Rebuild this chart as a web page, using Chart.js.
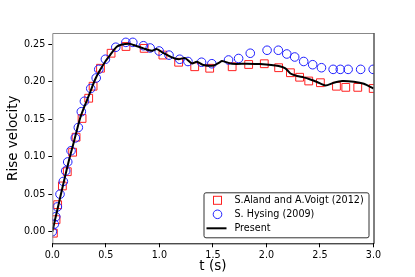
<!DOCTYPE html>
<html>
<head>
<meta charset="utf-8">
<script src="https://cdn.jsdelivr.net/npm/chart.js@4.4.0/dist/chart.umd.min.js"></script>
<style>
  html, body { margin: 0; padding: 0; background: #fff; }
  #wrap { width: 415px; height: 277px; }
</style>
</head>
<body>
<div id="wrap"><canvas id="chart-canvas" width="415" height="277"></canvas></div>
<script>
// S.Aland and A.Voigt (2012) - squares
const alandT = [0.01, 0.035, 0.05, 0.094, 0.14, 0.19, 0.222, 0.278, 0.34, 0.381, 0.45, 0.549, 0.688, 0.858, 1.033, 1.18, 1.33, 1.47, 1.68, 1.834, 1.98, 2.114, 2.224, 2.31, 2.395, 2.504, 2.654, 2.741, 2.853, 2.997];
const alandV = [-0.002, 0.016, 0.036, 0.061, 0.080, 0.106, 0.126, 0.151, 0.178, 0.194, 0.218, 0.238, 0.247, 0.2445, 0.2356, 0.226, 0.220, 0.218, 0.220, 0.223, 0.224, 0.2187, 0.212, 0.206, 0.201, 0.1987, 0.194, 0.1925, 0.1925, 0.191];

// S. Hysing (2009) - circles
const hysingT = [0, 0.019, 0.032, 0.047, 0.072, 0.103, 0.125, 0.144, 0.175, 0.215, 0.243, 0.271, 0.30, 0.359, 0.41, 0.434, 0.496, 0.593, 0.687, 0.752, 0.851, 0.914, 0.998, 1.09, 1.19, 1.267, 1.394, 1.49, 1.646, 1.74, 1.849, 2.006, 2.111, 2.19, 2.264, 2.348, 2.432, 2.514, 2.623, 2.69, 2.763, 2.88, 2.997];
const hysingV = [0, 0.010, 0.020, 0.033, 0.050, 0.067, 0.081, 0.093, 0.108, 0.125, 0.139, 0.160, 0.174, 0.191, 0.205, 0.2165, 0.230, 0.246, 0.2525, 0.2525, 0.248, 0.245, 0.241, 0.2355, 0.230, 0.227, 0.226, 0.224, 0.229, 0.231, 0.238, 0.242, 0.242, 0.237, 0.233, 0.227, 0.2227, 0.2187, 0.2165, 0.2165, 0.2165, 0.2165, 0.2165];

// Present - solid line
const presentT = [0, 0.05, 0.1, 0.15, 0.2, 0.259, 0.3, 0.337, 0.4, 0.446, 0.5, 0.54, 0.602, 0.65, 0.68, 0.727, 0.758, 0.851, 0.93, 0.977, 1.04, 1.117, 1.18, 1.24, 1.304, 1.35, 1.41, 1.506, 1.56, 1.585, 1.678, 1.818, 1.943, 2.114, 2.177, 2.224, 2.286, 2.348, 2.41, 2.473, 2.551, 2.629, 2.707, 2.816, 2.91, 3.0];
const presentV = [0, 0.031, 0.062, 0.092, 0.119, 0.151, 0.167, 0.18, 0.203, 0.2156, 0.228, 0.2356, 0.2467, 0.2495, 0.2503, 0.2505, 0.249, 0.2445, 0.2413, 0.2435, 0.238, 0.2325, 0.23, 0.2315, 0.2245, 0.2267, 0.2223, 0.2215, 0.2255, 0.2276, 0.224, 0.224, 0.2235, 0.221, 0.2178, 0.211, 0.2076, 0.2058, 0.203, 0.1996, 0.195, 0.1987, 0.201, 0.2, 0.1973, 0.191];

const xTicks = [0, 0.5, 1.0, 1.5, 2.0, 2.5, 3.0];
const yTicks = [0, 0.05, 0.10, 0.15, 0.20, 0.25];
const seriesLabels = ['S.Aland and A.Voigt (2012)', 'S. Hysing (2009)', 'Present'];

const FONT = 'DejaVu Sans';
const toPts = (xs, ys) => xs.map((x, i) => ({ x: x, y: ys[i] }));

// axes frame: top/left grey, right/bottom black
const framePlugin = {
    id: 'frame',
    afterDatasetsDraw(chart) {
        const { ctx, chartArea: a } = chart;
        ctx.save(); ctx.lineWidth = 1;
        ctx.strokeStyle = '#888';
        ctx.beginPath(); ctx.moveTo(a.left + 0.5, a.bottom); ctx.lineTo(a.left + 0.5, a.top + 0.5); ctx.lineTo(a.right, a.top + 0.5); ctx.stroke();
        ctx.strokeStyle = '#000';
        ctx.beginPath(); ctx.moveTo(a.left, a.bottom + 0.5); ctx.lineTo(a.right + 0.5, a.bottom + 0.5); ctx.lineTo(a.right + 0.5, a.top); ctx.stroke();
        ctx.restore();
    }
};

// legend box in lower right corner of the axes
const legendPlugin = {
    id: 'boxLegend',
    afterDraw(chart) {
        const { ctx, chartArea: a } = chart;
        const ds = chart.data.datasets;
        const bw = 165, bh = 45, bx = a.right - 5 - bw, by = a.bottom - 6 - bh;
        ctx.save();
        ctx.fillStyle = 'rgba(255,255,255,0.85)'; ctx.strokeStyle = '#333'; ctx.lineWidth = 1;
        ctx.beginPath(); ctx.roundRect(bx + 0.5, by + 0.5, bw, bh, 2); ctx.fill(); ctx.stroke();
        ctx.font = '9.6px "' + FONT + '"'; ctx.textBaseline = 'middle'; ctx.fillStyle = '#000';
        const mx = bx + 14, tx = bx + 31;
        ds.forEach((d, i) => {
            const yy = by + 8 + i * 14;
            ctx.strokeStyle = d.borderColor; ctx.lineWidth = d.showLine ? 2 : 1;
            if (d.showLine) { ctx.beginPath(); ctx.moveTo(mx - 11, yy); ctx.lineTo(mx + 9, yy); ctx.stroke(); }
            else if (d.pointStyle === 'rect') { ctx.strokeRect(mx - 4, yy - 4, 8, 8); }
            else { ctx.beginPath(); ctx.arc(mx, yy, 4.3, 0, Math.PI * 2); ctx.stroke(); }
            ctx.fillStyle = '#000'; ctx.fillText(seriesLabels[i], tx, yy + 0.5);
        });
        ctx.restore();
    }
};

window.renderChart = () => {
    const ctx = document.getElementById('chart-canvas').getContext('2d');
    window.theChart = new Chart(ctx, {
        type: 'scatter',
        data: {
            datasets: [
                { label: seriesLabels[0], data: toPts(alandT, alandV), pointStyle: 'rect', pointRadius: 5.5, pointBorderWidth: 1, borderColor: '#ff2020', backgroundColor: 'rgba(0,0,0,0)', showLine: false, clip: 0, order: 3 },
                { label: seriesLabels[1], data: toPts(hysingT, hysingV), pointStyle: 'circle', pointRadius: 4.3, pointBorderWidth: 1, borderColor: '#1f1fff', backgroundColor: 'rgba(0,0,0,0)', showLine: false, clip: 0, order: 2 },
                { label: seriesLabels[2], data: toPts(presentT, presentV), pointRadius: 0, borderColor: '#000', borderWidth: 2, showLine: true, tension: 0.25, clip: 0, order: 1 }
            ]
        },
        options: {
            responsive: false, animation: false, devicePixelRatio: 1,
            layout: { padding: { left: 0, top: 33, right: 41.5, bottom: 0 } },
            plugins: { legend: { display: false }, tooltip: { enabled: false } },
            scales: {
                x: {
                    type: 'linear', min: 0, max: 3.0,
                    afterBuildTicks: s => { s.ticks = xTicks.map(v => ({ value: v })); },
                    afterFit: s => { s.height = 33.7; },
                    ticks: { color: '#000', font: { family: FONT, size: 9.6 }, padding: 2, maxRotation: 0, callback: v => v.toFixed(1) },
                    grid: { drawOnChartArea: false, drawTicks: true, tickLength: 4, tickColor: '#000', tickWidth: 1 },
                    border: { display: false },
                    title: { display: true, text: 't (s)', color: '#000', font: { family: FONT, size: 13.5 }, padding: { top: 0, bottom: 2 } }
                },
                y: {
                    type: 'linear', min: -0.0155, max: 0.265,
                    afterBuildTicks: s => { s.ticks = yTicks.map(v => ({ value: v })); },
                    afterFit: s => { s.width = 52.3; },
                    ticks: { color: '#000', font: { family: FONT, size: 9.6 }, padding: 3, callback: v => v.toFixed(2) },
                    grid: { drawOnChartArea: false, drawTicks: true, tickLength: 4, tickColor: '#000', tickWidth: 1 },
                    border: { display: false },
                    title: { display: true, text: 'Rise velocity', color: '#000', font: { family: FONT, size: 13.5 }, padding: { top: 5, bottom: 0 } }
                }
            }
        },
        plugins: [framePlugin, legendPlugin]
    });
};

window.renderChart();
</script>
</body>
</html>
